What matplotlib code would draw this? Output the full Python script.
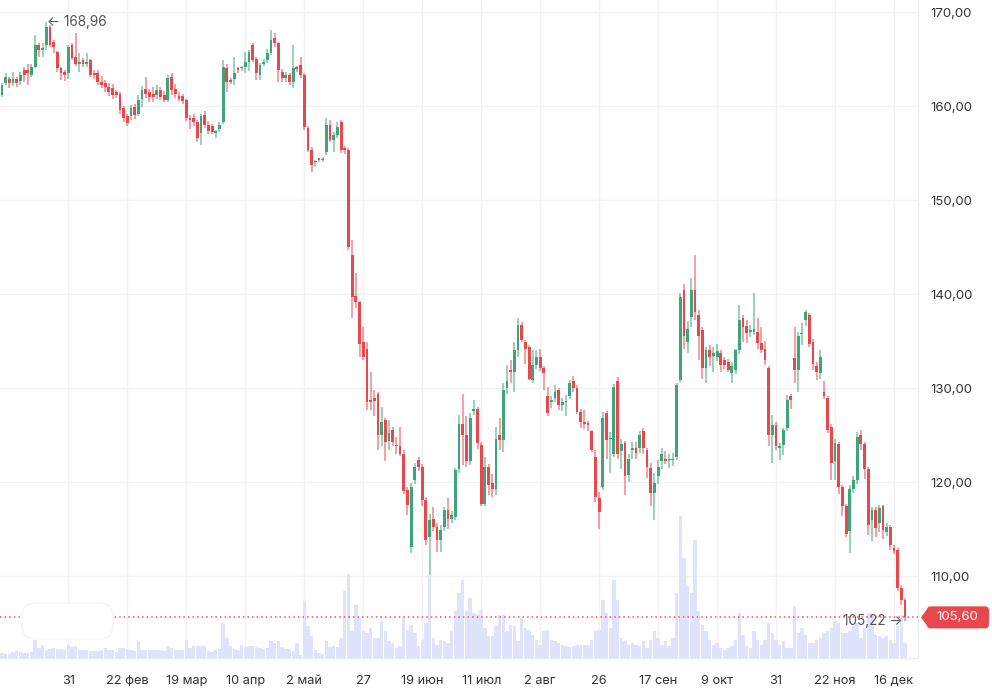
import matplotlib
matplotlib.use('Agg')
import matplotlib.pyplot as plt
import numpy as np
import pandas as pd
from matplotlib.patches import FancyBboxPatch, Polygon
from matplotlib.transforms import IdentityTransform

plt.rcParams['font.family'] = ['Inter', 'DejaVu Sans']

# ---------------- data ----------------
opens = [161.2,162.5,162.9,162.5,162.9,162.7,163.8,163.8,163.3,164.2,
         166.5,166.0,166.5,168.4,166.8,165.8,164.0,163.65,163.5,166.5,
         165.25,164.47,164.9,164.5,164.9,163.5,163.5,162.6,162.4,162.05,
         161.9,161.5,161.3,159.75,158.9,158.9,159.9,159.2,160.8,161.8,
         161.5,161.3,161.17,161.7,161.17,160.6,163.1,161.8,161.06,161.06,
         160.6,158.7,158.7,158.3,157.1,159.0,158.0,157.9,157.1,157.6,
         158.3,164.0,162.8,162.9,164.0,164.0,164.2,164.7,166.5,165.0,
         163.3,164.5,164.9,165.6,167.2,166.67,163.65,162.94,163.3,162.6,
         164.1,164.36,163.3,157.63,155.3,154.0,154.3,154.26,155.1,158.0,
         156.4,156.9,158.3,155.5,155.3,144.1,139.8,139.1,134.9,134.2,
         128.7,128.9,129.4,125.0,126.6,124.4,125.5,123.9,123.8,123.0,
         119.1,113.1,120.2,122.3,121.6,118.1,114.2,116.1,115.2,113.8,
         115.2,117.0,116.1,116.3,121.4,126.2,125.0,122.2,127.6,127.8,
         123.9,117.7,121.6,119.9,119.3,125.0,124.5,130.0,131.9,131.7,
         134.0,136.7,134.9,134.4,130.9,132.4,133.3,132.1,129.1,128.5,
         128.9,129.8,128.2,128.5,129.1,130.7,130.0,127.5,126.4,126.2,
         125.4,122.7,118.3,119.5,127.3,124.6,123.0,130.8,123.3,124.1,
         120.7,123.4,123.6,123.6,125.4,123.4,121.5,118.8,120.6,122.2,
         122.5,122.3,122.3,122.7,130.9,140.4,134.9,137.6,140.4,137.8,
         136.2,132.1,134.0,133.4,133.3,133.7,133.0,132.8,131.6,131.9,
         134.0,137.4,136.6,136.0,136.0,136.0,134.8,134.2,132.1,125.0,
         126.1,123.6,123.9,125.7,129.1,133.2,131.9,135.7,137.2,137.8,
         134.9,132.3,131.6,129.6,128.9,125.9,122.2,124.0,119.5,117.4,
         114.8,119.3,120.2,125.0,124.0,121.4,116.0,117.0,115.6,117.4,
         114.7,115.2,113.0,112.8,108.7,107.4]
highs = [162.4,163.5,163.1,163.65,163.1,163.6,164.2,164.5,164.5,167.55,
         166.7,166.7,168.96,168.6,167.0,165.9,164.2,163.8,166.5,166.7,
         167.8,165.6,165.1,165.6,165.0,163.8,163.8,163.2,162.8,162.5,
         162.3,161.7,161.5,160.0,159.2,160.1,160.2,161.2,162.1,163.1,
         161.8,162.0,162.2,162.0,161.6,163.3,163.5,162.3,161.5,161.3,
         160.8,159.0,159.1,158.5,159.2,159.5,158.4,158.1,157.5,158.3,
         164.9,164.5,163.0,165.2,164.2,164.3,165.8,166.0,166.7,165.2,
         164.6,165.0,166.1,168.1,167.8,166.8,163.9,163.6,163.5,166.5,
         164.3,165.2,163.5,157.9,155.6,154.3,154.5,154.6,158.7,158.5,
         157.2,158.3,158.5,155.7,155.5,145.7,142.2,139.3,136.5,134.9,
         131.7,129.8,129.6,128.0,126.8,126.6,125.9,124.8,125.9,123.4,
         119.5,119.9,122.0,122.7,121.9,118.4,116.6,117.3,115.6,115.4,
         117.3,118.3,116.9,121.5,127.1,129.4,127.0,127.3,128.7,128.0,
         124.3,122.7,121.9,120.9,125.9,126.8,130.5,132.4,133.0,134.9,
         137.4,137.0,135.1,134.6,134.0,134.0,134.2,132.3,130.1,129.2,
         130.3,130.0,128.9,129.3,130.9,131.3,130.3,127.8,127.7,126.5,
         125.5,123.4,118.9,127.4,127.6,125.3,130.4,131.2,124.6,124.4,
         123.0,124.3,124.3,125.4,125.8,123.6,122.0,121.0,122.3,123.6,
         123.3,123.0,123.1,130.5,140.1,141.1,137.1,141.7,144.1,138.3,
         136.5,134.4,134.6,134.4,134.7,134.0,133.3,133.1,132.8,134.2,
         138.8,137.8,137.2,136.7,140.1,137.4,136.5,135.0,132.3,127.1,
         126.4,124.1,125.7,129.3,129.4,136.5,136.0,136.9,138.3,138.0,
         135.2,132.8,134.0,130.7,129.1,126.2,124.6,124.3,119.7,117.7,
         119.7,120.6,125.3,125.5,124.3,121.6,117.3,117.3,117.6,117.6,
         115.6,115.4,113.3,113.0,109.0,107.7]
lows = [161.0,162.2,161.9,162.1,162.0,162.2,162.6,162.2,163.1,164.0,
        165.25,165.2,166.0,166.3,165.6,163.6,162.8,162.7,162.9,164.9,
        164.3,163.6,164.2,164.2,163.1,162.9,162.2,161.9,161.5,161.1,
        160.8,160.9,159.2,158.3,157.9,158.5,158.6,158.9,159.9,160.9,
        160.4,160.4,160.7,160.6,160.4,160.4,161.2,160.9,160.5,160.2,
        158.4,157.6,157.9,156.2,155.9,157.7,157.0,157.0,156.6,157.2,
        158.1,161.5,162.3,162.2,163.5,163.7,163.5,163.7,164.7,162.8,
        162.8,164.3,164.6,165.4,166.3,162.6,162.6,162.6,162.2,161.9,
        163.6,163.0,157.5,155.1,153.0,153.5,154.0,154.0,154.8,156.2,
        155.1,156.6,155.0,154.9,144.7,137.4,138.5,133.3,133.0,127.7,
        127.7,127.0,123.4,123.8,122.2,123.4,123.8,123.0,122.8,118.7,
        116.5,112.4,119.8,121.2,117.4,113.3,110.1,114.8,112.6,112.6,
        114.8,115.0,115.6,116.0,121.0,121.8,121.6,121.8,127.1,123.5,
        117.5,117.5,118.6,118.4,118.6,123.4,123.2,129.4,130.5,129.6,
        133.3,134.9,132.6,130.9,130.5,132.0,131.8,129.8,127.0,127.9,
        128.5,127.7,127.6,127.0,128.8,129.6,127.2,125.7,125.6,125.4,
        123.2,117.9,115.0,119.2,122.5,121.0,122.7,122.4,121.4,118.6,
        120.0,122.5,122.4,123.1,123.0,120.4,117.4,116.0,119.8,121.4,
        121.9,121.5,121.7,122.3,130.6,134.2,133.7,136.5,137.2,133.0,
        131.0,130.5,132.3,131.7,132.9,131.7,132.0,131.7,130.5,131.5,
        133.6,134.9,134.8,135.4,135.6,134.1,133.7,132.5,123.8,122.0,
        123.4,122.3,122.9,125.4,127.8,130.5,129.6,134.6,136.6,134.4,
        131.9,130.9,131.0,128.8,125.2,120.2,120.2,118.7,116.4,114.2,
        112.4,118.8,119.8,123.4,120.3,114.4,113.7,114.2,114.7,113.9,
        114.3,112.8,112.3,108.4,106.9,105.22]
closes = [162.2,163.1,162.5,162.9,162.5,163.3,163.3,163.5,164.2,166.5,
          166.0,166.1,168.4,166.5,166.3,164.0,163.5,163.3,166.3,165.07,
          164.5,164.7,164.5,164.7,163.3,163.3,162.6,162.2,162.05,161.5,
          161.17,161.17,159.6,158.7,158.15,159.75,159.04,160.6,161.7,161.3,
          161.0,161.0,161.7,161.0,160.6,162.94,161.7,161.3,160.8,160.5,
          158.7,158.5,158.3,156.6,158.9,158.0,157.3,157.2,157.3,158.0,
          164.2,162.6,162.6,163.5,163.8,164.1,164.7,165.8,164.9,163.5,
          164.36,164.7,165.6,167.0,166.67,163.83,162.94,163.3,162.6,164.0,
          163.9,163.3,157.8,155.3,153.7,154.1,154.3,154.4,158.0,156.4,
          156.9,157.8,155.3,155.3,145.0,139.7,139.2,134.7,133.3,128.5,
          128.5,128.6,125.0,126.4,124.3,125.2,124.3,123.8,123.0,119.0,
          117.6,119.5,121.6,121.6,118.1,113.8,116.0,115.2,113.8,114.9,
          117.0,116.1,116.5,121.3,126.2,125.0,122.2,126.8,127.7,124.1,
          117.7,121.6,119.7,119.3,124.6,124.5,129.8,130.7,131.7,134.0,
          136.7,135.1,134.2,131.0,132.4,133.3,132.1,131.6,127.3,128.7,
          129.6,128.2,128.5,128.6,130.5,130.0,127.5,126.4,126.2,126.1,
          123.4,118.4,116.8,126.8,124.5,124.7,130.1,123.0,124.0,120.6,
          122.5,123.6,123.1,125.0,123.6,121.6,118.8,119.9,121.6,123.0,
          122.2,122.4,122.5,130.3,139.7,135.5,136.3,140.4,138.1,135.5,
          132.1,134.0,133.3,133.7,133.9,132.4,132.4,131.9,132.3,134.0,
          137.2,136.5,135.9,136.2,136.3,134.8,134.0,133.0,125.0,126.1,
          123.8,123.8,125.5,128.7,128.7,131.9,135.5,135.9,138.1,134.7,
          132.6,131.7,133.3,129.1,125.5,122.0,124.1,119.5,117.4,114.5,
          119.3,120.2,124.8,124.0,121.4,115.4,117.0,115.1,117.2,114.9,
          115.2,113.3,112.7,108.7,107.4,105.6]
volumes = [5,4,4,6,7,6,5,5,6,18,
           10,13,8,9,10,9,9,8,13,11,
           12,8,8,8,7,7,7,8,10,8,
           8,6,10,10,9,8,7,17,8,8,
           8,8,8,8,7,12,10,8,8,8,
           18,10,12,12,12,12,7,6,8,9,
           35,20,12,9,8,13,11,12,12,11,
           10,9,10,17,15,17,11,9,9,7,
           15,3,57,32,22,8,5,4,17,11,
           12,11,20,67,84,27,53,40,27,25,
           30,20,20,37,27,17,15,10,12,40,
           28,33,25,12,18,35,83,20,13,18,
           17,15,27,47,65,78,47,60,45,43,
           48,30,22,22,32,43,43,27,33,32,
           17,40,30,28,23,18,13,27,28,18,
           17,15,13,12,11,12,13,13,13,13,
           18,27,28,58,45,30,78,58,20,17,
           13,15,13,12,17,10,18,27,20,13,
           17,12,20,65,142,100,72,65,118,47,
           33,27,18,13,15,10,8,10,12,18,
           45,23,12,10,27,18,13,18,35,25,
           18,13,17,10,10,52,25,30,23,15,
           15,18,20,25,27,30,37,35,25,25,
           27,33,35,20,30,45,45,23,22,20,
           22,18,15,32,43,15]

holidays = ['2024-02-23', '2024-03-08', '2024-05-01', '2024-05-09', '2024-06-12', '2024-11-04']
extra_days = ['2024-04-27', '2024-11-02']
dates = (pd.bdate_range('2024-01-05', '2024-12-19')
         .drop(pd.to_datetime(holidays))
         .union(pd.to_datetime(extra_days)))

tick_dates = ['2024-01-31', '2024-02-22', '2024-03-19', '2024-04-10', '2024-05-02',
              '2024-05-27', '2024-06-19', '2024-07-11', '2024-08-02', '2024-08-26',
              '2024-09-17', '2024-10-09', '2024-10-31', '2024-11-22', '2024-12-16']
tick_labels = ['31', '22 фев', '19 мар', '10 апр', '2 май', '27', '19 июн', '11 июл',
               '2 авг', '26', '17 сен', '9 окт', '31', '22 ноя', '16 дек']
price_ticks = [110, 120, 130, 140, 150, 160, 170]

max_price = 168.96
min_price = 105.22
last_price = 105.60

# ---------------- drawing ----------------
n = len(closes)
x = np.arange(n)
o = np.array(opens); c = np.array(closes); h = np.array(highs); l = np.array(lows)
v = np.array(volumes)
tick_pos = [i for i in pd.Index(dates).get_indexer(pd.to_datetime(tick_dates))]

W, H = 992, 691
fig = plt.figure(figsize=(W / 100, H / 100), dpi=100)
fig.patch.set_facecolor('white')
pos = [0, 33 / H, 918 / W, 658 / H]

xlim = (-0.54, 248.5)
ylim = (101.28, 171.28)

axg = fig.add_axes(pos, zorder=0)
axv = fig.add_axes(pos, zorder=1, sharex=axg)
axc = fig.add_axes(pos, zorder=2, sharex=axg)

for a in (axv, axc):
    a.patch.set_alpha(0)
    for s in a.spines.values():
        s.set_visible(False)
    a.tick_params(left=False, right=False, bottom=False, top=False,
                  labelleft=False, labelright=False, labelbottom=False)

# grid/labels axes
axg.set_xlim(*xlim)
axg.set_ylim(*ylim)
axg.set_yticks(price_ticks)
axg.set_yticklabels([f'{p:.2f}'.replace('.', ',') for p in price_ticks])
axg.yaxis.tick_right()
axg.set_xticks(tick_pos)
axg.set_xticklabels(tick_labels)
axg.tick_params(axis='y', length=0, pad=9, labelsize=9.5, labelcolor='#333333')
axg.tick_params(axis='x', length=0, pad=12, labelsize=9.2, labelcolor='#333333')
axg.grid(True, color='#f2f2f4', lw=1)
for side in ('top', 'left'):
    axg.spines[side].set_visible(False)
axg.spines['right'].set_color('#ebebee')
axg.spines['bottom'].set_color('#ebebee')

# volume
axv.bar(x, v, width=0.92, color='#dfe3fc', linewidth=0)
axv.set_ylim(0, 658)
axv.set_xlim(*xlim)

# candles
axc.set_ylim(*ylim)
axc.set_xlim(*xlim)
green, red, grey = '#3ea57a', '#e8484d', '#8a8a8a'
cols = np.where(c > o, green, np.where(c < o, red, grey))
axc.vlines(x, l, h, colors=cols, lw=1.1, alpha=0.65)
body_lo = np.minimum(o, c)
body_h = np.maximum(np.abs(c - o), 0.13)
axc.bar(x, body_h, bottom=body_lo, width=0.76, color=cols, linewidth=0)

# last price dotted line
axc.axhline(last_price, color='#ec5454', lw=1.1, ls=(0, (1, 2)))

# annotations
imax = int(np.argmax(h))
imin = int(np.argmin(l))
axc.text(imax + 0.3, max_price, '← ' + f'{max_price:.2f}'.replace('.', ','),
         ha='left', va='center', fontsize=9.8, color='#555555')
axc.text(imin - 0.6, min_price, f'{min_price:.2f}'.replace('.', ',') + ' →',
         ha='right', va='center', fontsize=9.8, color='#555555')

# price tag on right
fig.canvas.draw()
ydisp = axc.transData.transform((0, last_price))[1]
tag_h = 22
rect = FancyBboxPatch((927, ydisp - tag_h / 2), 62, tag_h,
                      boxstyle='round,pad=0,rounding_size=4',
                      facecolor='#e8484d', edgecolor='none',
                      transform=IdentityTransform())
tri = Polygon([(921, ydisp), (929, ydisp + tag_h / 2), (929, ydisp - tag_h / 2)],
              closed=True, facecolor='#e8484d', edgecolor='none',
              transform=IdentityTransform())
fig.add_artist(tri)
fig.add_artist(rect)
fig.text(957 / W, ydisp / H, f'{last_price:.2f}'.replace('.', ','),
         ha='center', va='center', fontsize=9.5, color='white')

# faint watermark box
wm = FancyBboxPatch((22, H - 639), 91, 36,
                    boxstyle='round,pad=0,rounding_size=14',
                    facecolor='white', edgecolor='#f4f4f4', lw=1,
                    transform=IdentityTransform(), zorder=5)
fig.add_artist(wm)

fig.savefig('out.png', dpi=100)
